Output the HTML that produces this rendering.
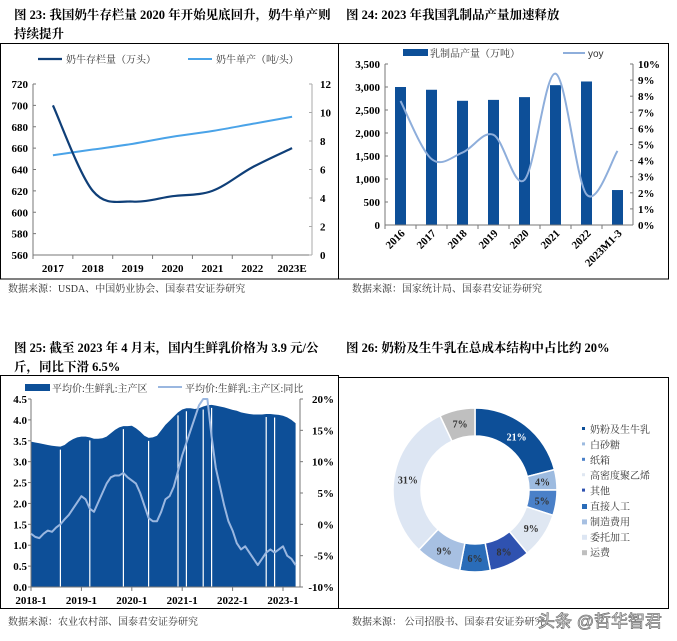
<!DOCTYPE html>
<html><head><meta charset="utf-8"><style>
html,body{margin:0;padding:0;background:#fff;}
svg{display:block;font-family:"Liberation Serif","Noto Serif CJK SC",serif;}
.t{font-weight:bold;font-size:12.5px;fill:#000;}
.src{font-size:10px;fill:#333;}
.tk{font-weight:bold;font-size:11px;fill:#000;}
.lg{font-size:10px;fill:#333;}
</style></head><body>
<svg id="s" width="677" height="641" viewBox="0 0 677 641">
<g>
<text class="t" x="14" y="19">图 23: 我国奶牛存栏量 2020 年开始见底回升，奶牛单产则</text>
<text class="t" x="14" y="38">持续提升</text>
<rect x="0.5" y="43.5" width="338" height="235.5" fill="none" stroke="#000"/>
<g id="p1"></g>
<text class="src" x="8" y="292">数据来源：USDA、中国奶业协会、国泰君安证券研究</text>
</g>
<g>
<text class="t" x="346" y="19">图 24:  2023 年我国乳制品产量加速释放</text>
<rect x="338.5" y="43.5" width="330" height="235.5" fill="none" stroke="#000"/>
<g id="p2"></g>
<text class="src" x="352" y="292">数据来源：国家统计局、国泰君安证券研究</text>
</g>
<g>
<text class="t" x="14" y="352">图 25:  截至 2023 年 4 月末，国内生鲜乳价格为 3.9 元/公</text>
<text class="t" x="14" y="371">斤，同比下滑 6.5%</text>
<rect x="0.5" y="375.5" width="338" height="233" fill="none" stroke="#000"/>
<g id="p3"></g>
<text class="src" x="8" y="625">数据来源：农业农村部、国泰君安证券研究</text>
</g>
<g>
<text class="t" x="346" y="352">图 26:  奶粉及生牛乳在总成本结构中占比约 20%</text>
<rect x="338.5" y="377.5" width="330" height="231" fill="none" stroke="#000"/>
<g id="p4"></g>
<text class="src" x="352" y="625">数据来源：  公司招股书、国泰君安证券研究</text>
<text x="538" y="627" font-size="17" fill="#fff" stroke="#777" stroke-width="0.8" font-family="Liberation Sans,Noto Sans CJK SC,sans-serif">头条 @哲华智君</text>
</g>
</svg>
<script>
// ---------- data ----------
const p1Cats=['2017','2018','2019','2020','2021','2022','2023E'];
const p1Cows=[700,620,610,615,620,642,660];
const p1Yield=[7.0,7.4,7.8,8.3,8.7,9.2,9.7];
const p1LeftTicks=[560,580,600,620,640,660,680,700,720];
const p1RightTicks=[0,2,4,6,8,10,12];

const p2Cats=['2016','2017','2018','2019','2020','2021','2022','2023M1-3'];
const p2Prod=[3000,2940,2700,2720,2780,3040,3120,760];
const p2Yoy=[7.7,4.1,4.5,5.6,2.8,9.4,1.9,4.6];
const p2LeftTicks=[0,500,1000,1500,2000,2500,3000,3500];
const p2RightTicks=[0,1,2,3,4,5,6,7,8,9,10];

const p3XLabels=['2018-1','2019-1','2020-1','2021-1','2022-1','2023-1'];
const p3Price=[3.48,3.46,3.44,3.42,3.40,3.38,3.37,3.36,3.40,3.48,3.54,3.58,
3.60,3.60,3.58,3.55,3.55,3.56,3.60,3.68,3.76,3.82,3.85,3.85,
3.86,3.80,3.72,3.62,3.57,3.58,3.62,3.75,3.88,3.98,4.08,4.18,
4.25,4.28,4.28,4.26,4.28,4.32,4.35,4.36,4.34,4.32,4.30,4.27,
4.24,4.22,4.18,4.16,4.14,4.13,4.13,4.13,4.14,4.14,4.13,4.12,
4.10,4.06,4.00,3.92];
const p3Yoy=[-1.5,-2,-2.2,-1.5,-1,-1.2,-0.5,0,0.8,1.5,2.5,3.5,
4.5,4.0,2.5,2.0,3.5,5.0,6.5,7.5,7.8,7.8,8.2,7.5,
7.0,6.5,5.0,3.0,1.0,0.5,0.5,2.0,4.0,4.5,6.0,8.5,
11.0,13.0,15.0,17.0,19.0,20.0,20.0,14.0,9.0,6.0,3.0,0.5,
-1.0,-3.0,-4.0,-3.5,-4.5,-5.5,-6.5,-5.5,-4.5,-4.0,-4.5,-4.0,
-3.5,-5.0,-5.5,-6.5];
const p3Gaps=[7,14,22,28,35,37,41,43,56,58,64];
const p3LeftTicks=[0,0.5,1,1.5,2,2.5,3,3.5,4,4.5];
const p3RightTicks=[-10,-5,0,5,10,15,20];

const p4Names=['奶粉及生牛乳','白砂糖','纸箱','高密度聚乙烯','其他','直接人工','制造费用','委托加工','运费'];
const p4Vals=[21,4,5,9,8,6,9,31,7];
const p4Colors=['#0d4f98','#9dbbe0','#4a80c8','#dfe7f2','#2f52b0','#2a6cb8','#a7c0e2','#dde6f3','#bfbfbf'];

// ---------- helpers ----------
const NS='http://www.w3.org/2000/svg';
function mk(parent,tag,attrs,txt){const e=document.createElementNS(NS,tag);for(const k in attrs)e.setAttribute(k,attrs[k]);if(txt!==undefined)e.textContent=txt;parent.appendChild(e);return e;}
function lin(d0,d1,r0,r1){return v=>r0+(v-d0)/(d1-d0)*(r1-r0);}
function smooth(pts){let d='M'+pts[0][0]+','+pts[0][1];for(let i=0;i<pts.length-1;i++){const p0=pts[i-1]||pts[i],p1=pts[i],p2=pts[i+1],p3=pts[i+2]||p2;
const c1=[p1[0]+(p2[0]-p0[0])/6,p1[1]+(p2[1]-p0[1])/6],c2=[p2[0]-(p3[0]-p1[0])/6,p2[1]-(p3[1]-p1[1])/6];d+=' C'+c1+' '+c2+' '+p2;}return d;}
function fmt(n){return n.toString().replace(/\B(?=(\d{3})+(?!\d))/g,',');}

// ---------- panel 1 ----------
(function(){const g=document.getElementById('p1');
const L=33,R=312,T=84,B=255;const yl=lin(560,720,B,T),yr=lin(0,12,B,T);
const step=(R-L)/7,xc=i=>L+step*(i+0.5);
mk(g,'line',{x1:L,y1:T,x2:L,y2:B,stroke:'#777'});mk(g,'line',{x1:R,y1:T,x2:R,y2:B,stroke:'#aaa'});mk(g,'line',{x1:L,y1:B,x2:R,y2:B,stroke:'#777'});
p1LeftTicks.forEach(v=>{const t=mk(g,'text',{class:'tk',x:L-5,y:yl(v)+4,'text-anchor':'end'},v);mk(g,'line',{x1:L,y1:yl(v),x2:L+3,y2:yl(v),stroke:'#777'});});
p1RightTicks.forEach(v=>{const t=mk(g,'text',{class:'tk',x:R+8,y:yr(v)+4},v);mk(g,'line',{x1:R-3,y1:yr(v),x2:R,y2:yr(v),stroke:'#aaa'});});
p1Cats.forEach((c,i)=>{const t=mk(g,'text',{class:'tk',x:xc(i),y:B+17,'text-anchor':'middle'},c);mk(g,'line',{x1:L+step*i,y1:B,x2:L+step*i,y2:B+4,stroke:'#777'});});
const yl2=mk(g,'path',{d:smooth(p1Yield.map((v,i)=>[xc(i),yr(v)])),fill:'none',stroke:'#4aa3e8','stroke-width':2});

const cl=mk(g,'path',{d:smooth(p1Cows.map((v,i)=>[xc(i),yl(v)])),fill:'none',stroke:'#0f3f78','stroke-width':2.2});

const lg=mk(g,'g',{});
mk(lg,'line',{x1:38,y1:59,x2:62,y2:59,stroke:'#0f3f78','stroke-width':2.2});mk(lg,'text',{class:'lg',x:66,y:63},'奶牛存栏量（万头）');
mk(lg,'line',{x1:188,y1:59,x2:212,y2:59,stroke:'#4aa3e8','stroke-width':2});mk(lg,'text',{class:'lg',x:216,y:63},'奶牛单产（吨/头）');
})();

// ---------- panel 2 ----------
(function(){const g=document.getElementById('p2');
const L=385,R=633,T=64,B=225;const yl=lin(0,3500,B,T),yr=lin(0,10,B,T);
const step=(R-L)/8,xc=i=>L+step*(i+0.5);
p2Prod.forEach((v,i)=>{const r=mk(g,'rect',{x:xc(i)-5.5,y:yl(v),width:11,height:B-yl(v),fill:'#0d4f98'});});
mk(g,'line',{x1:L,y1:T,x2:L,y2:B,stroke:'#777'});mk(g,'line',{x1:R,y1:T,x2:R,y2:B,stroke:'#777'});mk(g,'line',{x1:L,y1:B,x2:R,y2:B,stroke:'#777'});
p2LeftTicks.forEach(v=>{const t=mk(g,'text',{class:'tk',x:L-5,y:yl(v)+4,'text-anchor':'end'},fmt(v));mk(g,'line',{x1:L,y1:yl(v),x2:L+3,y2:yl(v),stroke:'#777'});});
p2RightTicks.forEach(v=>{const t=mk(g,'text',{class:'tk',x:R+5,y:yr(v)+4},v+'%');mk(g,'line',{x1:R-3,y1:yr(v),x2:R,y2:yr(v),stroke:'#777'});});
p2Cats.forEach((c,i)=>{const x=xc(i)+5,y=B+9;const t=mk(g,'text',{class:'tk',x:x,y:y,'text-anchor':'end',transform:'rotate(-45 '+x+' '+y+')'},c);mk(g,'line',{x1:L+step*i,y1:B,x2:L+step*i,y2:B+4,stroke:'#777'});});
const yl2=mk(g,'path',{d:smooth(p2Yoy.map((v,i)=>[xc(i),yr(v)])),fill:'none',stroke:'#8eaedb','stroke-width':2});

const lg=mk(g,'g',{});
mk(lg,'rect',{x:403,y:49,width:25,height:7,fill:'#0d4f98'});mk(lg,'text',{class:'lg',x:430,y:57},'乳制品产量（万吨）');
mk(lg,'line',{x1:563,y1:53,x2:585,y2:53,stroke:'#8eaedb','stroke-width':2});mk(lg,'text',{class:'lg',x:588,y:57,'font-family':'Liberation Sans,sans-serif'},'yoy');
})();

// ---------- panel 3 ----------
(function(){const g=document.getElementById('p3');
const L=31,R=300,T=399,B=587;const yl=lin(0,4.5,B,T),yr=lin(-10,20,B,T);
const xm=lin(0,60,L,283);
let d='M'+xm(0)+','+B;p3Price.forEach((v,i)=>{d+=' L'+xm(i)+','+yl(v);});d+=' L'+xm(p3Price.length-1)+','+B+' Z';
const a=mk(g,'path',{d:d,fill:'#0d4f98'});
p3Gaps.forEach(i=>{const l=mk(g,'line',{x1:xm(i),y1:yl(p3Price[Math.min(i,p3Price.length-1)])+3,x2:xm(i),y2:B,stroke:'#fff','stroke-width':1.2});});
mk(g,'line',{x1:L,y1:T,x2:L,y2:B,stroke:'#777'});mk(g,'line',{x1:R,y1:T,x2:R,y2:B,stroke:'#777'});mk(g,'line',{x1:L,y1:B,x2:R,y2:B,stroke:'#777'});
p3LeftTicks.forEach(v=>{const t=mk(g,'text',{class:'tk',x:L-4,y:yl(v)+4,'text-anchor':'end'},v.toFixed(1));mk(g,'line',{x1:L-3,y1:yl(v),x2:L,y2:yl(v),stroke:'#777'});});
p3RightTicks.forEach(v=>{const t=mk(g,'text',{class:'tk',x:R+34,y:yr(v)+4,'text-anchor':'end'},v+'%');mk(g,'line',{x1:R,y1:yr(v),x2:R+3,y2:yr(v),stroke:'#777'});});
p3XLabels.forEach((c,i)=>{const x=xm(i*12);const t=mk(g,'text',{class:'tk',x:x,y:B+17,'text-anchor':'middle'},c);mk(g,'line',{x1:x,y1:B,x2:x,y2:B+4,stroke:'#777'});});
let d2='';p3Yoy.forEach((v,i)=>{d2+=(i?' L':'M')+xm(i)+','+yr(v);});
const yl2=mk(g,'path',{d:d2,fill:'none',stroke:'#9ab7e0','stroke-width':2,'stroke-linejoin':'round'});
const lg=mk(g,'g',{});
mk(lg,'rect',{x:25,y:384,width:25,height:7,fill:'#0d4f98'});mk(lg,'text',{class:'lg',x:52,y:392},'平均价:生鲜乳:主产区');
mk(lg,'line',{x1:158,y1:387,x2:182,y2:387,stroke:'#9ab7e0','stroke-width':2});mk(lg,'text',{class:'lg',x:185,y:392},'平均价:生鲜乳:主产区:同比');
})();

// ---------- panel 4 ----------
(function(){const g=document.getElementById('p4');
const cx=475,cy=490,ro=82,ri=54;const tot=p4Vals.reduce((a,b)=>a+b,0);let acc=0;
function pt(r,a){return [cx+r*Math.sin(a),cy-r*Math.cos(a)];}
p4Vals.forEach((v,i)=>{const a0=acc/tot*2*Math.PI,a1=(acc+v)/tot*2*Math.PI;acc+=v;const lg=(a1-a0)>Math.PI?1:0;
const o0=pt(ro,a0),o1=pt(ro,a1),i1=pt(ri,a1),i0=pt(ri,a0);
const p=mk(g,'path',{d:'M'+o0+' A'+ro+','+ro+' 0 '+lg+' 1 '+o1+' L'+i1+' A'+ri+','+ri+' 0 '+lg+' 0 '+i0+' Z',fill:p4Colors[i],stroke:'#fff','stroke-width':1.5});

const m=pt((ro+ri)/2,(a0+a1)/2);const t=mk(g,'text',{x:m[0],y:m[1]+4,'text-anchor':'middle','font-size':10,'font-weight':'bold',fill:i===0?'#fff':'#333'},v+'%');
});
p4Names.forEach((n,i)=>{const y=430+i*15.4;const e=mk(g,'g',{});
mk(e,'rect',{x:582,y:y-3,width:i>=5?5:3,height:i>=5?5:3,fill:p4Colors[i]});mk(e,'text',{class:'lg',x:590,y:y+3},n);});
})();
</script>
</body></html>
